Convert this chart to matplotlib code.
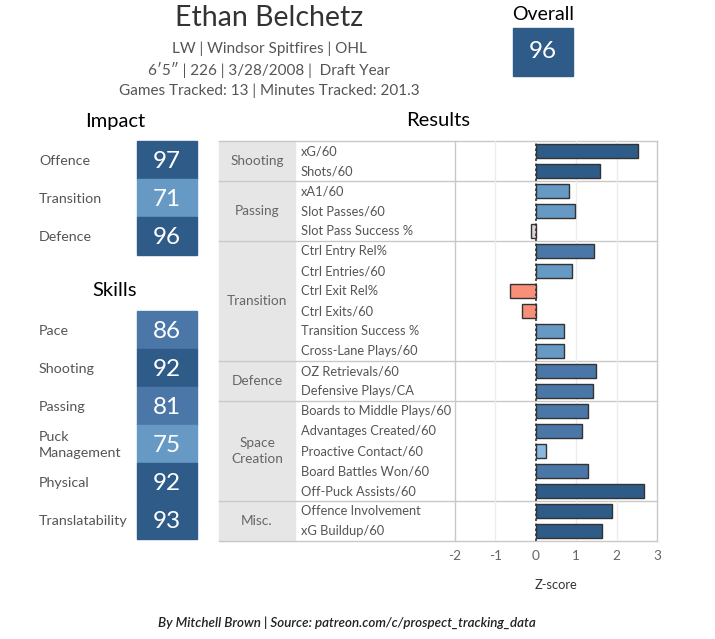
import matplotlib.pyplot as plt
from matplotlib.patches import Rectangle

plt.rcParams['font.family'] = ['Lato', 'DejaVu Sans']

player = 'Ethan Belchetz'
info_lines = ['LW | Windsor Spitfires | OHL',
              '6\u20325\u2033 | 226 | 3/28/2008 |  Draft Year',
              'Games Tracked: 13 | Minutes Tracked: 201.3']
overall = 96

impact_labels = ['Offence', 'Transition', 'Defence']
impact_values = [97, 71, 96]

skill_labels = ['Pace', 'Shooting', 'Passing', 'Puck\nManagement', 'Physical', 'Translatability']
skill_values = [86, 92, 81, 75, 92, 93]

groups = ['Shooting', 'Passing', 'Transition', 'Defence', 'Space\nCreation', 'Misc.']
group_sizes = [2, 3, 6, 2, 5, 2]
metrics = ['xG/60', 'Shots/60',
           'xA1/60', 'Slot Passes/60', 'Slot Pass Success %',
           'Ctrl Entry Rel%', 'Ctrl Entries/60', 'Ctrl Exit Rel%', 'Ctrl Exits/60',
           'Transition Success %', 'Cross-Lane Plays/60',
           'OZ Retrievals/60', 'Defensive Plays/CA',
           'Boards to Middle Plays/60', 'Advantages Created/60', 'Proactive Contact/60',
           'Board Battles Won/60', 'Off-Puck Assists/60',
           'Offence Involvement', 'xG Buildup/60']
zscores = [2.52, 1.60,
           0.83, 0.98, -0.11,
           1.45, 0.89, -0.65, -0.33, 0.71, 0.71,
           1.50, 1.42,
           1.28, 1.15, 0.26, 1.28, 2.69,
           1.89, 1.63]
xticks = [-2, -1, 0, 1, 2, 3]

DARK, MED, LIGHT, PALE = '#2e5b88', '#4a77a8', '#6699c4', '#8cb8dd'


def bar_color(v):
    if v >= 1.55: return DARK
    if v >= 1.1: return MED
    if v >= 0.5: return LIGHT
    if v > 0.1: return PALE
    if v > -0.2: return '#ddd2d2'
    return '#f88f79'


def box_color(v):
    if v >= 90: return DARK
    if v >= 80: return MED
    return LIGHT


fig = plt.figure(figsize=(7.15, 6.39), dpi=100)
ax = fig.add_axes([0, 0, 1, 1])
ax.set_xlim(0, 715)
ax.set_ylim(639, 0)
ax.axis('off')

# header
ax.text(269, 18, player, ha='center', va='center', fontsize=20.5, color='#333333')
for i, line in enumerate(info_lines):
    ax.text(269, 48.5 + 21.3 * i, line, ha='center', va='center', fontsize=11, color='#555555')
ax.text(543, 14, 'Overall', ha='center', va='center', fontsize=14, color='black')
ax.add_patch(Rectangle((513, 28), 60, 48, color=DARK))
ax.text(543, 52, str(overall), ha='center', va='center', fontsize=17.5, color='white')


def score_boxes(title, ty, labels, values, top):
    ax.text(115, ty, title, ha='center', va='center', fontsize=14.5, color='black')
    for i, (lab, val) in enumerate(zip(labels, values)):
        y0 = top + 38 * i
        ax.add_patch(Rectangle((137, y0), 60, 38, color=box_color(val)))
        ax.text(167, y0 + 20, str(val), ha='center', va='center', fontsize=17.5, color='white')
        ax.text(39, y0 + 20, lab, ha='left', va='center', fontsize=10.3, color='#555555',
                linespacing=1.45)


score_boxes('Impact', 121, impact_labels, impact_values, 141)
score_boxes('Skills', 291, skill_labels, skill_values, 311)

# results table
ax.text(438, 120, 'Results', ha='center', va='center', fontsize=14.5, color='black')
top, rh = 141, 20
n = len(metrics)
bottom = top + rh * n
ax.add_patch(Rectangle((219, top), 76, rh * n, color='#e6e6e6', zorder=0))
line_kw = dict(color='#c8c8c8', lw=1, zorder=1)
ax.plot([219, 657], [top, top], **line_kw)
ax.plot([219, 657], [bottom, bottom], **line_kw)
ax.plot([657, 657], [top, bottom], **line_kw)
ax.plot([455, 455], [top, bottom], **line_kw)
start = 0
for g, size in zip(groups, group_sizes):
    y0 = top + rh * start
    if start > 0:
        ax.plot([219, 657], [y0, y0], **line_kw)
    ax.text(257, y0 + rh * size / 2, g, ha='center', va='center', fontsize=9.8,
            color='#666666', linespacing=1.45)
    start += size
for i, m in enumerate(metrics):
    ax.text(301, top + rh * i + 10, m, ha='left', va='center', fontsize=9.3, color='#555555')

bx = fig.add_axes([455 / 715, (639 - bottom) / 639, 202 / 715, rh * n / 639])
bx.patch.set_alpha(0)
bx.set_xlim(-2, 3)
bx.set_ylim(n - 0.5, -0.5)
for t in [-1, 1, 2]:
    bx.axvline(t, color='#ececec', lw=1, zorder=0)
bx.barh(range(n), zscores, height=0.73, color=[bar_color(v) for v in zscores],
        edgecolor='#333333', linewidth=1, zorder=2)
bx.axvline(0, color='#333333', lw=1.2, ls=(0, (1.5, 1.5)), zorder=3)
for s in bx.spines.values():
    s.set_visible(False)
bx.set_yticks([])
bx.set_xticks(xticks)
bx.set_xticklabels([str(t) for t in xticks])
bx.tick_params(axis='x', length=0, pad=6.5, labelsize=9.8, labelcolor='#666666')

ax.text(556, 585, 'Z-score', ha='center', va='center', fontsize=9.3, color='#333333')
ax.text(347, 623, 'By Mitchell Brown | Source: patreon.com/c/prospect_tracking_data',
        ha='center', va='center', fontsize=9.6, style='italic', weight='semibold',
        color='#222222')

fig.savefig('out.png', dpi=100)
